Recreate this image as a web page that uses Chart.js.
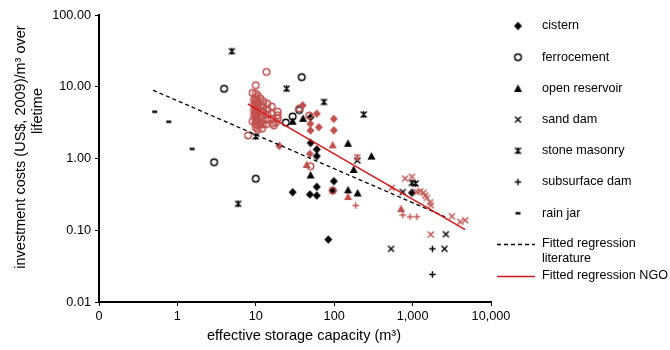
<!DOCTYPE html>
<html>
<head>
<meta charset="utf-8">
<script src="https://cdn.jsdelivr.net/npm/chart.js@4.4.0/dist/chart.umd.min.js"></script>
<style>
  html, body { margin: 0; padding: 0; background: #fff; }
  #wrap { width: 670px; height: 350px; }
</style>
</head>
<body>
<div id="wrap"><canvas id="chart"></canvas></div>
<script>
// effective storage capacity (m3) vs investment cost (US$ 2009 / m3 over lifetime)
// literature values (black)
const cisternLitX = [50, 50, 60, 60, 99, 60, 29.5, 49, 60, 84, 980, 96];
const cisternLitY = [3.77, 1.65, 1.34, 1.08, 0.483, 0.403, 0.339, 0.315, 0.305, 0.0743, 0.333, 0.358];
const ferroLitX = [3.94, 38.5, 24.1, 35.8, 2.94, 10, 29.5];
const ferroLitY = [9.36, 13.6, 3.17, 4.74, 0.888, 0.523, 3.85];
const reservoirLitX = [29.5, 40, 150, 299, 177, 50, 150, 199];
const reservoirLitY = [3.31, 3.63, 1.63, 1.08, 0.703, 0.589, 0.366, 0.331];
const sandLitX = [750, 2655, 531, 2548, 197];
const sandLitY = [0.341, 0.088, 0.0551, 0.0551, 0.938];
const stoneLitX = [4.95, 24.7, 74, 238, 10, 5.96, 980, 1092];
const stoneLitY = [31.3, 9.4, 6.13, 4.1, 2.03, 0.234, 0.458, 0.448];
const subsurfLitX = [1790, 1790];
const subsurfLitY = [0.0551, 0.0242];
const rainJarX = [0.514, 0.776, 1.54];
const rainJarY = [4.48, 3.25, 1.36];

// NGO values (red)
const cisternNgoX = [39.7, 60, 99, 49.5, 49.8, 63.6, 99, 19.9, 49];
const cisternNgoY = [5.51, 4.21, 3.57, 3.05, 2.46, 2.73, 2.47, 1.50, 1.16];
const ferroNgoX = [13.7, 10, 7.98, 48, 49.8, 35.8, 95.7,
  10, 10, 10, 10, 10, 10, 10, 10, 10, 10, 10, 10, 10,
  9.5, 9.5, 9.5, 9.5, 9.1, 9.1,
  10.6, 10.6, 10.6, 10.6, 10.6, 10.6, 10.6,
  11.5, 11.5, 11.5, 11.5, 11.5, 12,
  12.5, 12.5, 12.5, 12.3, 12.3,
  14, 14, 14, 14, 13.5,
  16, 16, 16, 16.5,
  19, 19, 19, 18, 17];
const ferroNgoY = [16.1, 10.5, 2.09, 3.97, 0.78, 4.98, 0.358,
  8.0, 7.0, 6.3, 5.8, 5.3, 4.9, 4.5, 4.2, 3.9, 3.6, 3.3, 3.0, 2.7,
  6.6, 5.6, 4.7, 4.0, 3.3, 8.2,
  7.5, 6.0, 5.0, 4.3, 3.5, 2.9, 2.55,
  6.8, 5.5, 4.6, 3.8, 3.1, 2.6,
  6.2, 5.2, 4.4, 3.4, 3.0,
  5.8, 4.8, 4.1, 3.5, 3.0,
  5.3, 4.2, 3.6, 3.1,
  4.5, 4.0, 3.6, 3.2, 2.9];
const reservoirNgoX = [95.7, 44.6, 150, 713];
const reservoirNgoY = [1.55, 0.825, 0.295, 0.2];
const sandNgoX = [802, 980, 542, 1132, 1247, 1378, 1448, 1522, 1676, 1710, 3170, 4046, 4690, 1710];
const sandNgoY = [0.526, 0.556, 0.391, 0.343, 0.35, 0.333, 0.305, 0.283, 0.246, 0.223, 0.157, 0.131, 0.138, 0.0873];
const stoneNgoX = [197];
const stoneNgoY = [1.04];
const subsurfNgoX = [188, 750, 929, 1132];
const subsurfNgoY = [0.221, 0.163, 0.154, 0.154];

// fitted regressions (end points)
const fitLitX = [0.49, 2600];
const fitLitY = [8.95, 0.154];
const fitNgoX = [7.9, 4680];
const fitNgoY = [5.78, 0.102];

const xTickValues = [0.1, 1, 10, 100, 1000, 10000];
const xTickLabels = ['0', '1', '10', '100', '1,000', '10,000'];
const yTickValues = [0.01, 0.1, 1, 10, 100];
const yTickLabels = ['0.01', '0.10', '1.00', '10.00', '100.00'];

const xTitle = 'effective storage capacity (m³)';
const yTitle = ['investment costs (US$, 2009)/m³ over', 'lifetime'];

const legendNames = ['cistern', 'ferrocement', 'open reservoir', 'sand dam', 'stone masonry', 'subsurface dam', 'rain jar'];
const legendShapes = ['diamond', 'circle', 'triangle', 'cross', 'star', 'plus', 'dash'];

const BLACK = '#000000';
const RED = 'rgb(192,80,77)';
const FIT_RED = 'rgb(215,25,28)';
const FONT = '"Liberation Sans", Arial, sans-serif';

function makeMarker(shape, color) {
  const c = document.createElement('canvas');
  c.width = 11;
  c.height = 11;
  const g = c.getContext('2d');
  g.translate(5.5, 5.5);
  g.fillStyle = color;
  g.strokeStyle = color;
  g.lineWidth = 1.4;
  g.beginPath();
  if (shape === 'diamond') {
    g.moveTo(0, -4.2); g.lineTo(4, 0); g.lineTo(0, 4.2); g.lineTo(-4, 0); g.closePath(); g.fill();
  } else if (shape === 'circle') {
    g.arc(0, 0, 3.3, 0, Math.PI * 2); g.stroke();
  } else if (shape === 'triangle') {
    g.moveTo(0, -4); g.lineTo(4, 3.5); g.lineTo(-4, 3.5); g.closePath(); g.fill();
  } else if (shape === 'cross') {
    g.moveTo(-3, -3); g.lineTo(3, 3); g.moveTo(3, -3); g.lineTo(-3, 3); g.stroke();
  } else if (shape === 'star') {
    g.moveTo(-3, -3); g.lineTo(3, 3); g.moveTo(3, -3); g.lineTo(-3, 3);
    g.moveTo(0, -3.5); g.lineTo(0, 3.5); g.stroke();
  } else if (shape === 'plus') {
    g.moveTo(-3.2, 0); g.lineTo(3.2, 0); g.moveTo(0, -3.2); g.lineTo(0, 3.2); g.stroke();
  } else if (shape === 'dash') {
    g.fillRect(-2.5, -1.2, 5, 2.4);
  }
  return c;
}

const blackMarkers = {};
const redMarkers = {};
legendShapes.forEach(s => {
  blackMarkers[s] = makeMarker(s, BLACK);
  redMarkers[s] = makeMarker(s, RED);
});

function pts(xs, ys) {
  return xs.map((x, i) => ({ x: x, y: ys[i] }));
}

function scatterSet(label, xs, ys, marker) {
  return {
    type: 'scatter',
    label: label,
    data: pts(xs, ys),
    pointStyle: marker,
    pointRadius: 5,
    pointHoverRadius: 5
  };
}

const datasets = [
  {
    type: 'line', label: 'Fitted regression NGO', data: pts(fitNgoX, fitNgoY),
    borderColor: FIT_RED, borderWidth: 1.6, pointRadius: 0, fill: false, tension: 0
  },
  {
    type: 'line', label: 'Fitted regression literature', data: pts(fitLitX, fitLitY),
    borderColor: BLACK, borderWidth: 1.3, borderDash: [4, 3], pointRadius: 0, fill: false, tension: 0
  },
  scatterSet('cistern NGO', cisternNgoX, cisternNgoY, redMarkers.diamond),
  scatterSet('ferrocement NGO', ferroNgoX, ferroNgoY, redMarkers.circle),
  scatterSet('open reservoir NGO', reservoirNgoX, reservoirNgoY, redMarkers.triangle),
  scatterSet('sand dam NGO', sandNgoX, sandNgoY, redMarkers.cross),
  scatterSet('stone masonry NGO', stoneNgoX, stoneNgoY, redMarkers.star),
  scatterSet('subsurface dam NGO', subsurfNgoX, subsurfNgoY, redMarkers.plus),
  scatterSet('cistern', cisternLitX, cisternLitY, blackMarkers.diamond),
  scatterSet('ferrocement', ferroLitX, ferroLitY, blackMarkers.circle),
  scatterSet('open reservoir', reservoirLitX, reservoirLitY, blackMarkers.triangle),
  scatterSet('sand dam', sandLitX, sandLitY, blackMarkers.cross),
  scatterSet('stone masonry', stoneLitX, stoneLitY, blackMarkers.star),
  scatterSet('subsurface dam', subsurfLitX, subsurfLitY, blackMarkers.plus),
  scatterSet('rain jar', rainJarX, rainJarY, blackMarkers.dash)
];

// legend on the right and the axis titles, placed like the original
const sideLegend = {
  id: 'sideLegend',
  afterDraw(chart) {
    const ctx = chart.ctx;
    const area = chart.chartArea;
    const left = area.right;
    ctx.save();
    ctx.font = '12.6px ' + FONT;
    ctx.fillStyle = BLACK;
    ctx.textBaseline = 'middle';
    ctx.textAlign = 'left';
    legendNames.forEach((name, i) => {
      const y = 26 + i * 31.2;
      const m = blackMarkers[legendShapes[i]];
      ctx.drawImage(m, left + 27 - m.width / 2, y - m.height / 2);
      ctx.fillText(name, left + 51, y);
    });
    ctx.beginPath();
    ctx.setLineDash([4, 3]);
    ctx.lineWidth = 1.3;
    ctx.strokeStyle = BLACK;
    ctx.moveTo(left + 6, 244.5);
    ctx.lineTo(left + 44, 244.5);
    ctx.stroke();
    ctx.setLineDash([]);
    ctx.beginPath();
    ctx.lineWidth = 1.6;
    ctx.strokeStyle = FIT_RED;
    ctx.moveTo(left + 6, 276.5);
    ctx.lineTo(left + 44, 276.5);
    ctx.stroke();
    ctx.fillText('Fitted regression', left + 51, 244);
    ctx.fillText('literature', left + 51, 259);
    ctx.fillText('Fitted regression NGO', left + 51, 276);

    // axis titles
    ctx.font = '14.5px ' + FONT;
    ctx.textAlign = 'center';
    ctx.fillText(xTitle, 304, 336);
    ctx.save();
    ctx.translate(21, 147);
    ctx.rotate(-Math.PI / 2);
    ctx.fillText(yTitle[0], 0, 0);
    ctx.restore();
    ctx.save();
    ctx.translate(38, 111);
    ctx.rotate(-Math.PI / 2);
    ctx.fillText(yTitle[1], 0, 0);
    ctx.restore();
    ctx.restore();
  }
};

const ctx = document.getElementById('chart').getContext('2d');
new Chart(ctx, {
  data: { datasets: datasets },
  options: {
    responsive: true,
    maintainAspectRatio: false,
    animation: false,
    layout: { padding: { top: 15, right: 179, bottom: 0, left: 0 } },
    plugins: {
      legend: { display: false },
      tooltip: { enabled: false }
    },
    scales: {
      x: {
        type: 'logarithmic',
        min: 0.1,
        max: 10000,
        afterBuildTicks: s => { s.ticks = xTickValues.map(v => ({ value: v })); },
        afterFit: s => { s.height = 48; },
        ticks: {
          callback: (v, i) => xTickLabels[i],
          color: BLACK,
          font: { family: FONT, size: 12.7 },
          padding: 3,
          maxRotation: 0,
          autoSkip: false
        },
        grid: { drawOnChartArea: false, drawTicks: true, tickLength: 4, color: BLACK, lineWidth: 1 },
        border: { display: true, color: BLACK, width: 2 }
      },
      y: {
        type: 'logarithmic',
        min: 0.01,
        max: 100,
        afterBuildTicks: s => { s.ticks = yTickValues.map(v => ({ value: v })); },
        afterFit: s => { s.width = 99; },
        ticks: {
          callback: (v, i) => yTickLabels[i],
          color: BLACK,
          font: { family: FONT, size: 12.7 },
          padding: 4,
          autoSkip: false
        },
        grid: { drawOnChartArea: false, drawTicks: true, tickLength: 4, color: BLACK, lineWidth: 1 },
        border: { display: true, color: BLACK, width: 2 }
      }
    }
  },
  plugins: [sideLegend]
});
</script>
</body>
</html>
